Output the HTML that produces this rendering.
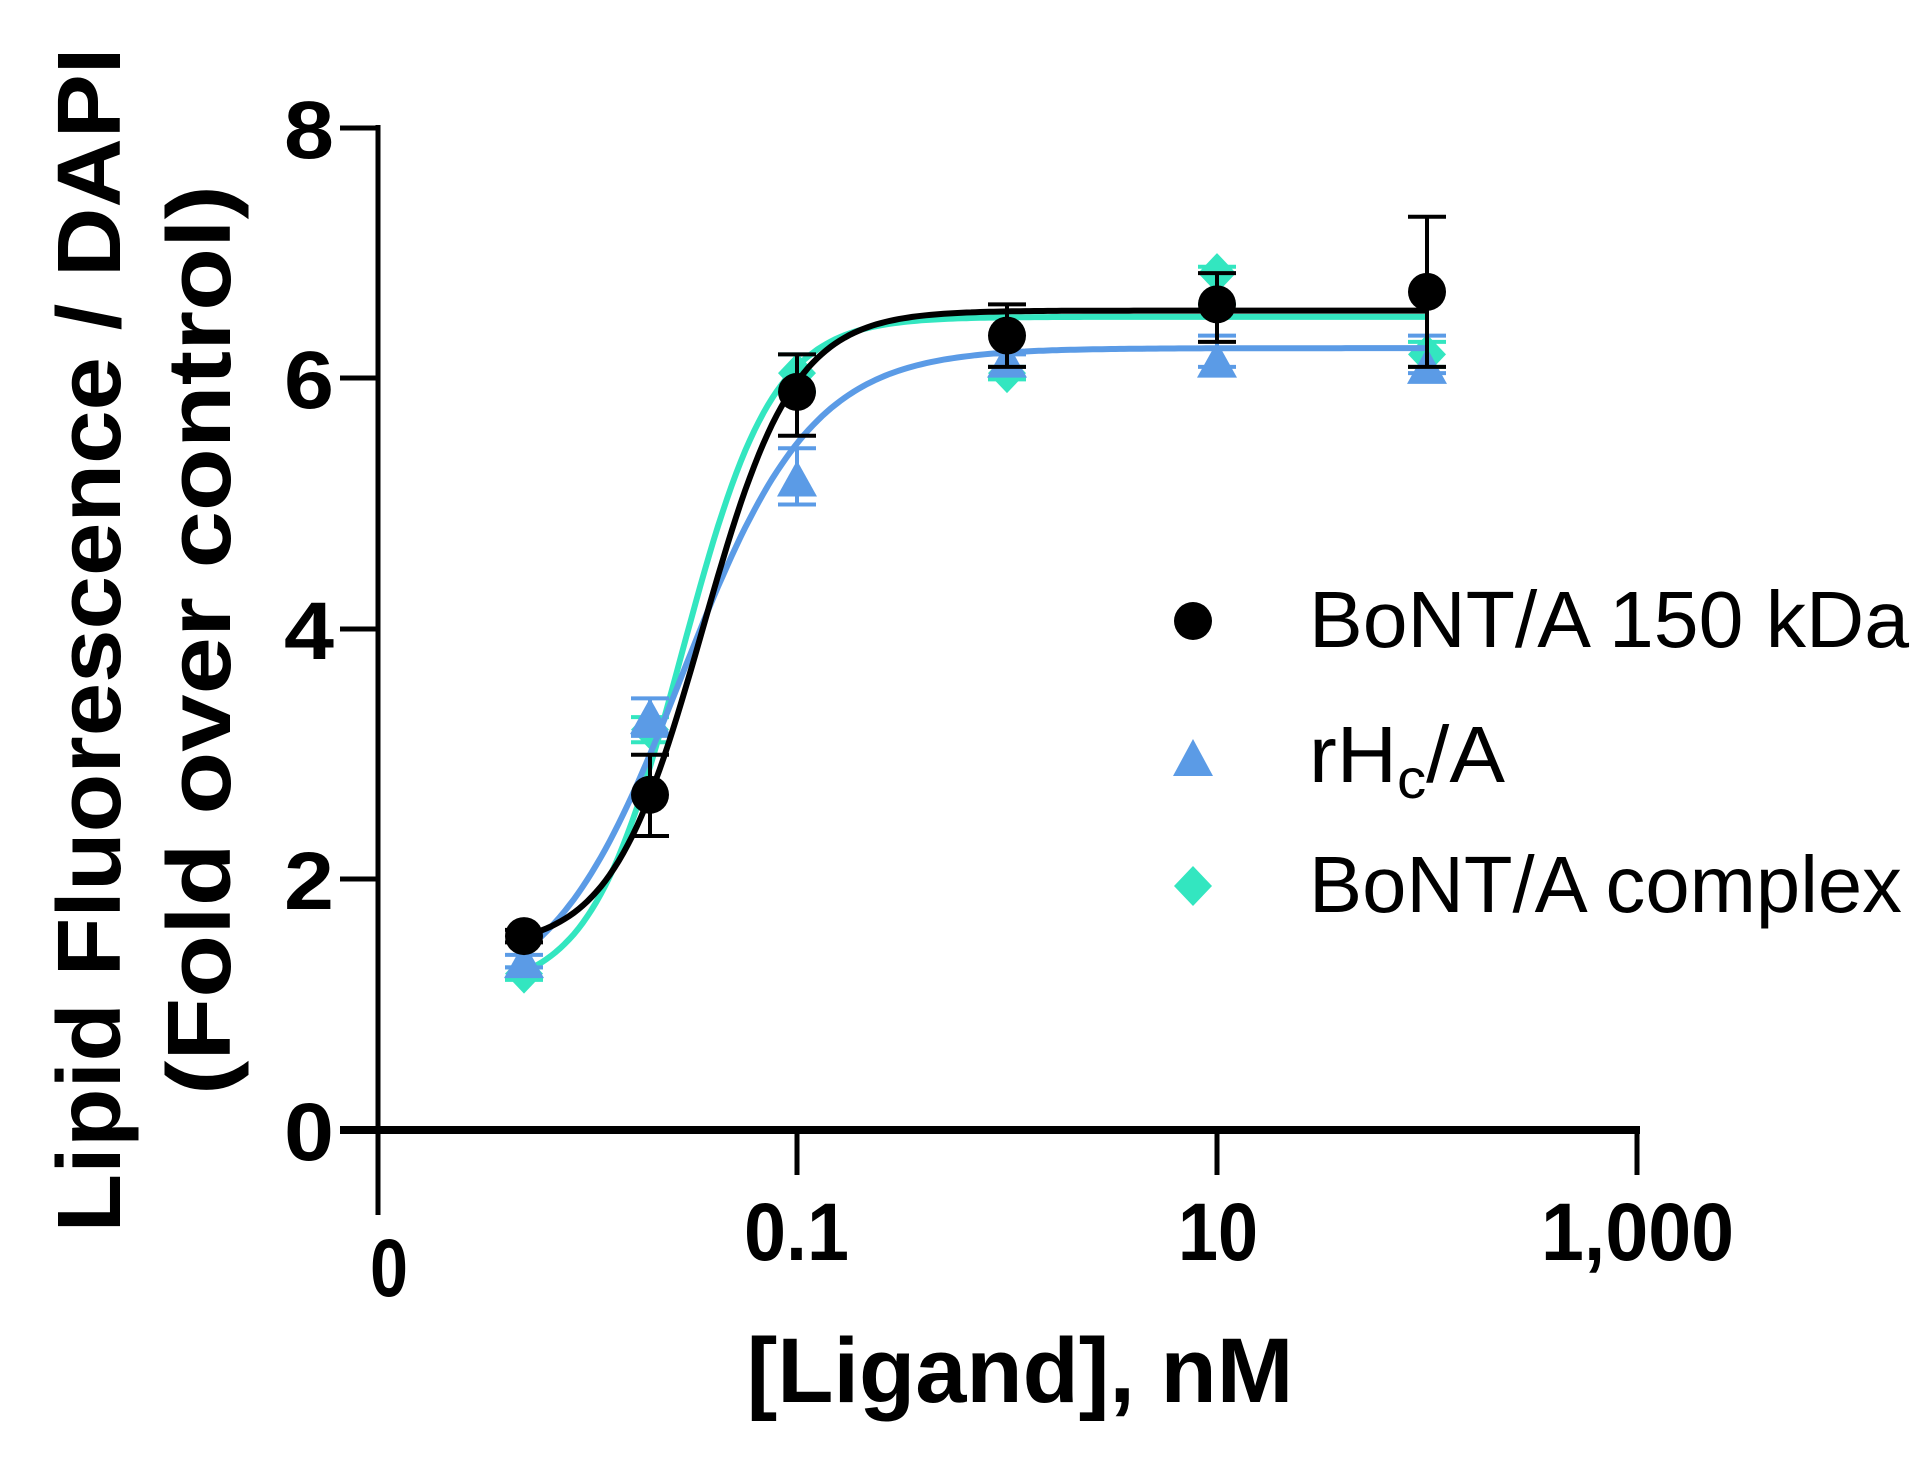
<!DOCTYPE html>
<html><head><meta charset="utf-8"><style>
html,body{margin:0;padding:0;background:#fff;}
svg{display:block;}
text{font-family:"Liberation Sans",Arial,sans-serif;}
</style></head><body>
<svg id="s" width="1928" height="1463" viewBox="0 0 1928 1463" xmlns="http://www.w3.org/2000/svg">
<rect width="1928" height="1463" fill="#fff"/>
<line x1="378" y1="125" x2="378" y2="1215" stroke="#000" stroke-width="5"/>
<line x1="340" y1="1130" x2="1640" y2="1130" stroke="#000" stroke-width="8"/>
<g stroke="#000" stroke-width="5">
<line x1="340" y1="128" x2="378" y2="128"/>
<line x1="340" y1="378" x2="378" y2="378"/>
<line x1="340" y1="629" x2="378" y2="629"/>
<line x1="340" y1="879" x2="378" y2="879"/>
<line x1="797" y1="1130" x2="797" y2="1175"/>
<line x1="1217" y1="1130" x2="1217" y2="1175"/>
<line x1="1637" y1="1130" x2="1637" y2="1175"/>
</g>
<g font-weight="bold" font-size="82" text-anchor="end">
<text x="334" y="158" textLength="50" lengthAdjust="spacingAndGlyphs">8</text>
<text x="334" y="408" textLength="50" lengthAdjust="spacingAndGlyphs">6</text>
<text x="334" y="659" textLength="50" lengthAdjust="spacingAndGlyphs">4</text>
<text x="334" y="909" textLength="50" lengthAdjust="spacingAndGlyphs">2</text>
<text x="334" y="1160" textLength="50" lengthAdjust="spacingAndGlyphs">0</text>
</g>
<g font-weight="bold" font-size="82">
<text x="370" y="1296" textLength="38" lengthAdjust="spacingAndGlyphs">0</text>
<text x="744" y="1260" textLength="105" lengthAdjust="spacingAndGlyphs">0.1</text>
<text x="1178" y="1260" textLength="80" lengthAdjust="spacingAndGlyphs">10</text>
<text x="1541" y="1260" textLength="193" lengthAdjust="spacingAndGlyphs">1,000</text>
</g>
<text x="1020" y="1402" font-weight="bold" font-size="92" text-anchor="middle">[Ligand], nM</text>
<g transform="translate(120,640) rotate(-90)" font-weight="bold" font-size="90" text-anchor="middle">
<text x="0" y="0" textLength="1185" lengthAdjust="spacingAndGlyphs">Lipid Fluorescence / DAPI</text>
<text x="0" y="110" textLength="910" lengthAdjust="spacingAndGlyphs">(Fold over control)</text>
</g>
<g id="plot"></g>
<circle cx="1193" cy="621" r="19" fill="#000"/>
<polygon points="1193,739 1213,776 1173,776" fill="#5b9be6"/>
<polygon points="1193,866 1212,886 1193,906 1174,886" fill="#33e6c0"/>
<g font-size="80">
<text x="1309" y="647" textLength="600" lengthAdjust="spacingAndGlyphs">BoNT/A 150 kDa</text>
<text x="1309" y="782" textLength="196" lengthAdjust="spacingAndGlyphs">rH<tspan font-size="56" dy="16">c</tspan><tspan dy="-16">/A</tspan></text>
<text x="1309" y="912" textLength="593" lengthAdjust="spacingAndGlyphs">BoNT/A complex</text>
</g>
</svg>
<script>
(function(){
var g=document.getElementById('plot');var NS='http://www.w3.org/2000/svg';
function X(l){return 797+(l+1)*210;}function Y(v){return 1130-v*125.1;}
function el(n,a){var e=document.createElementNS(NS,n);for(var k in a)e.setAttribute(k,a[k]);g.appendChild(e);return e;}
var xs=[-2.3,-1.7,-1,0,1,2];
var series=[
 {c:'#33e6c0',b:1.1,t:6.5,ec:-1.55,h:2.0,y:[1.25,3.2,6.05,6.05,6.85,6.2],e:[[1.2,1.3],[3.1,3.3],[5.9,6.2],[6.0,6.1],[6.6,6.9],[6.1,6.3]],m:'d'},
 {c:'#5b9be6',b:1.0,t:6.25,ec:-1.55,h:1.4,y:[1.35,3.3,5.2,6.15,6.15,6.1],e:[[1.3,1.4],[3.15,3.45],[5.0,5.45],[6.1,6.2],[6.1,6.35],[6.05,6.35]],m:'t'},
 {c:'#000',b:1.45,t:6.55,ec:-1.45,h:2.0,y:[1.55,2.68,5.9,6.35,6.6,6.7],e:[[1.5,1.6],[2.35,3.0],[5.55,6.2],[6.1,6.6],[6.3,6.85],[6.1,7.3]],m:'c'}
];
series.forEach(function(s){
 var d='';for(var i=0;i<=200;i++){var l=-2.3+4.3*i/200;var v=s.b+(s.t-s.b)/(1+Math.pow(10,(s.ec-l)*s.h));d+=(i?'L':'M')+X(l).toFixed(1)+','+Y(v).toFixed(1);}
 el('path',{d:d,fill:'none',stroke:s.c,'stroke-width':6});
 xs.forEach(function(l,i){var x=X(l);
  var lo=Y(s.e[i][0]),hi=Y(s.e[i][1]);
  el('line',{x1:x,y1:lo,x2:x,y2:hi,stroke:s.c,'stroke-width':4});
  el('line',{x1:x-19,y1:lo,x2:x+19,y2:lo,stroke:s.c,'stroke-width':4});
  el('line',{x1:x-19,y1:hi,x2:x+19,y2:hi,stroke:s.c,'stroke-width':4});
  var y=Y(s.y[i]);
  if(s.m=='c')el('circle',{cx:x,cy:y,r:19,fill:s.c});
  else if(s.m=='t')el('polygon',{points:x+','+(y-19)+' '+(x+20)+','+(y+17)+' '+(x-20)+','+(y+17),fill:s.c});
  else el('polygon',{points:x+','+(y-20)+' '+(x+19)+','+y+' '+x+','+(y+20)+' '+(x-19)+','+y,fill:s.c});
 });
});
})();
</script>
</body></html>
